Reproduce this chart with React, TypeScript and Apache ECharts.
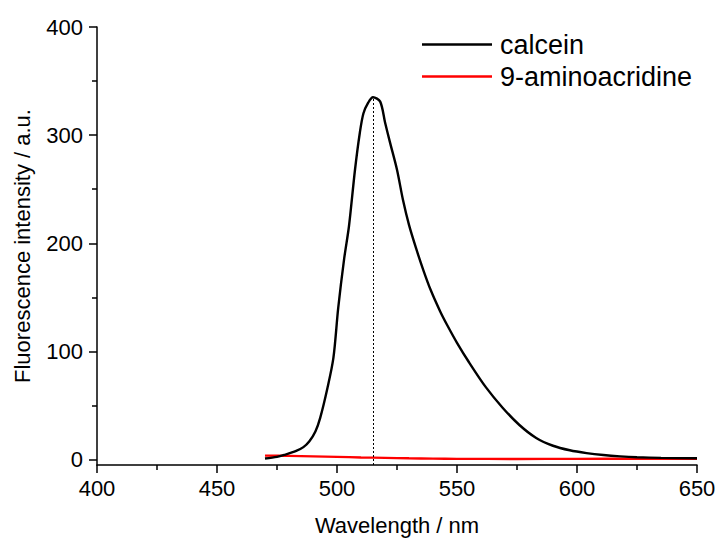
import React, { useEffect, useRef } from "react";
import * as echarts from "echarts";

const calceinX = [470, 475, 478, 483, 486, 488.5, 491, 493, 496, 498.5, 500.5, 503, 505, 507.5, 509.5, 511, 513, 515, 518, 520, 522, 525, 527.5, 530, 533, 536, 539, 543, 546, 550, 555, 562, 569, 576, 583, 590, 597, 604, 611, 618, 625, 635, 650];
const calceinY = [1, 2.5, 4.3, 8, 11.5, 17, 26, 38.6, 66, 94, 140, 186, 216, 268, 302, 320, 330, 335, 331, 312, 294, 268, 240, 217, 195, 175, 157, 137, 124, 108, 90, 67, 48, 32, 20, 12.8, 8.6, 6, 4.2, 3, 2.2, 1.6, 1.2];
const acridineX = [470, 480, 490, 500, 510, 520, 530, 540, 550, 575, 600, 625, 650];
const acridineY = [3.7, 3.4, 3.0, 2.5, 2.0, 1.6, 1.2, 0.9, 0.7, 0.6, 0.7, 0.8, 0.8];
const peakX = 515;
const peakY = 335;
const yMajor = [0, 100, 200, 300, 400];
const yMinor = [50, 150, 250, 350];

const FONT = "'Liberation Sans', Arial, sans-serif";

export default function App() {
  const ref = useRef<HTMLDivElement>(null);
  useEffect(() => {
    if (!ref.current) return;
    const chart = echarts.init(ref.current, undefined, { renderer: "svg" });
    const zip = (xs: number[], ys: number[]) => xs.map((x, i) => [x, ys[i]]);
    chart.setOption({
      animation: false,
      backgroundColor: "#fff",
      grid: { left: 97, right: 22, top: 27, bottom: 74 },
      legend: {
        orient: "vertical",
        left: 422,
        top: 31,
        padding: 0,
        icon: "rect",
        itemWidth: 70,
        itemHeight: 2.5,
        itemGap: 5,
        textStyle: { fontFamily: FONT, fontSize: 27, color: "#000", lineHeight: 27, padding: [0, 0, 0, 3] },
        data: ["calcein", "9-aminoacridine"],
      },
      xAxis: {
        type: "value",
        min: 400,
        max: 650,
        interval: 50,
        name: "Wavelength / nm",
        nameLocation: "middle",
        nameGap: 49,
        nameTextStyle: { fontFamily: FONT, fontSize: 22, color: "#000" },
        axisLine: { onZero: false, lineStyle: { color: "#000", width: 1.5 } },
        axisTick: { length: 8, lineStyle: { color: "#000", width: 1.5 } },
        minorTick: { show: true, splitNumber: 2, length: 5, lineStyle: { color: "#000", width: 1.5 } },
        axisLabel: { fontFamily: FONT, fontSize: 22, color: "#000", margin: 12 },
        splitLine: { show: false },
      },
      yAxis: [
        {
          type: "value",
          min: -5,
          max: 400,
          name: "Fluorescence intensity / a.u.",
          nameLocation: "middle",
          nameGap: 64,
          nameTextStyle: { fontFamily: FONT, fontSize: 22, color: "#000" },
          axisLine: { show: true, lineStyle: { color: "#000", width: 1.5 } },
          axisTick: { show: true, length: 8, customValues: yMajor, lineStyle: { color: "#000", width: 1.5 } },
          axisLabel: { fontFamily: FONT, fontSize: 22, color: "#000", margin: 14, customValues: yMajor },
          splitLine: { show: false },
        },
        {
          type: "value",
          min: -5,
          max: 400,
          position: "left",
          axisLine: { show: false },
          axisTick: { show: true, length: 5, customValues: yMinor, lineStyle: { color: "#000", width: 1.5 } },
          axisLabel: { show: false },
          splitLine: { show: false },
        },
      ],
      series: [
        {
          name: "calcein",
          type: "line",
          data: zip(calceinX, calceinY),
          symbol: "none",
          smooth: 0.3,
          lineStyle: { color: "#000", width: 2.4 },
          itemStyle: { color: "#000" },
          z: 3,
          markLine: {
            silent: true,
            symbol: "none",
            label: { show: false },
            lineStyle: { color: "#000", width: 1, type: [2, 2] },
            data: [[{ coord: [peakX, -5] }, { coord: [peakX, peakY] }]],
          },
        },
        {
          name: "9-aminoacridine",
          type: "line",
          data: zip(acridineX, acridineY),
          symbol: "none",
          smooth: 0.3,
          lineStyle: { color: "#ff0000", width: 2.4 },
          itemStyle: { color: "#ff0000" },
          z: 2,
        },
      ],
    });
    return () => chart.dispose();
  }, []);
  return <div ref={ref} style={{ width: 719, height: 541, position: "absolute", left: 0, top: 0 }} />;
}
